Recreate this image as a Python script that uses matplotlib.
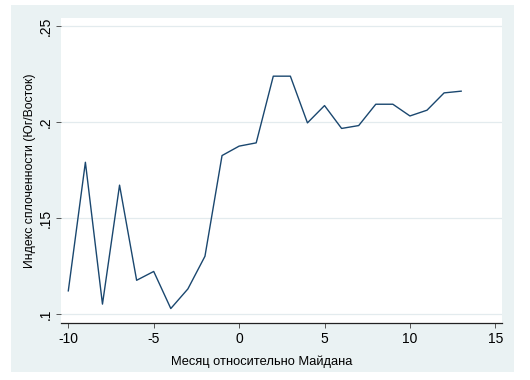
import matplotlib
matplotlib.use("Agg")
import matplotlib.pyplot as plt
from matplotlib.patches import Rectangle

months = [-10, -9, -8, -7, -6, -5, -4, -3, -2, -1, 0, 1, 2, 3, 4, 5, 6, 7, 8, 9, 10, 11, 12, 13]
cohesion = [0.1123, 0.1792, 0.1054, 0.1673, 0.1178, 0.1224, 0.1031, 0.1133, 0.1303, 0.1827,
            0.1876, 0.1893, 0.2240, 0.2240, 0.1997, 0.2087, 0.1968, 0.1983, 0.2094, 0.2094,
            0.2033, 0.2063, 0.2153, 0.2162]
xticks = [-10, -5, 0, 5, 10, 15]
yticks = [0.10, 0.15, 0.20, 0.25]
yticklabels = [".1", ".15", ".2", ".25"]
xlabel = "Месяц относительно Майдана"
ylabel = "Индекс сплоченности (Юг/Восток)"

plt.rcParams['font.family'] = ['Liberation Sans', 'DejaVu Sans']

W, H = 530, 380
fig = plt.figure(figsize=(W / 100, H / 100), dpi=100, facecolor="white")

# outer Stata-like graph region
bg = Rectangle((11 / W, 1 - 372 / H), (514 - 11) / W, (372 - 5) / H,
               transform=fig.transFigure, facecolor="#eaf2f3",
               edgecolor="none", zorder=-10)
fig.add_artist(bg)

left, right, top, bottom = 60.5, 502, 18.3, 322.7
ax = fig.add_axes([left / W, 1 - bottom / H, (right - left) / W, (bottom - top) / H])
ax.set_zorder(5)
ax.set_facecolor("white")

ax.plot(months, cohesion, color="#1a476f", linewidth=1.0, zorder=3)

ax.set_xlim(-10.457, 15.39)
ax.set_ylim(0.09573, 0.25411)

ax.set_xticks(xticks)
ax.set_xticklabels([str(t) for t in xticks])
ax.set_yticks(yticks)
ax.set_yticklabels(yticklabels, rotation=90, va="center")

ax.grid(axis="y", color="#e3ebee", linewidth=0.9, zorder=1)
ax.grid(axis="x", visible=False)

for s in ["top", "right", "left"]:
    ax.spines[s].set_visible(False)
ax.spines["bottom"].set_color("#222222")
ax.spines["bottom"].set_linewidth(0.9)

ax.tick_params(axis="x", length=3.5, width=0.7, color="#555555", labelsize=10, pad=3,
               labelcolor="#000000")
ax.tick_params(axis="y", length=3.5, width=0.7, color="#555555", labelsize=10, pad=2,
               labelcolor="#000000")

ax.set_xlabel(xlabel, fontsize=9.3, labelpad=7, x=0.456)
ax.set_ylabel(ylabel, fontsize=8.8, labelpad=2)

fig.savefig("out.png", dpi=100, facecolor="white")
